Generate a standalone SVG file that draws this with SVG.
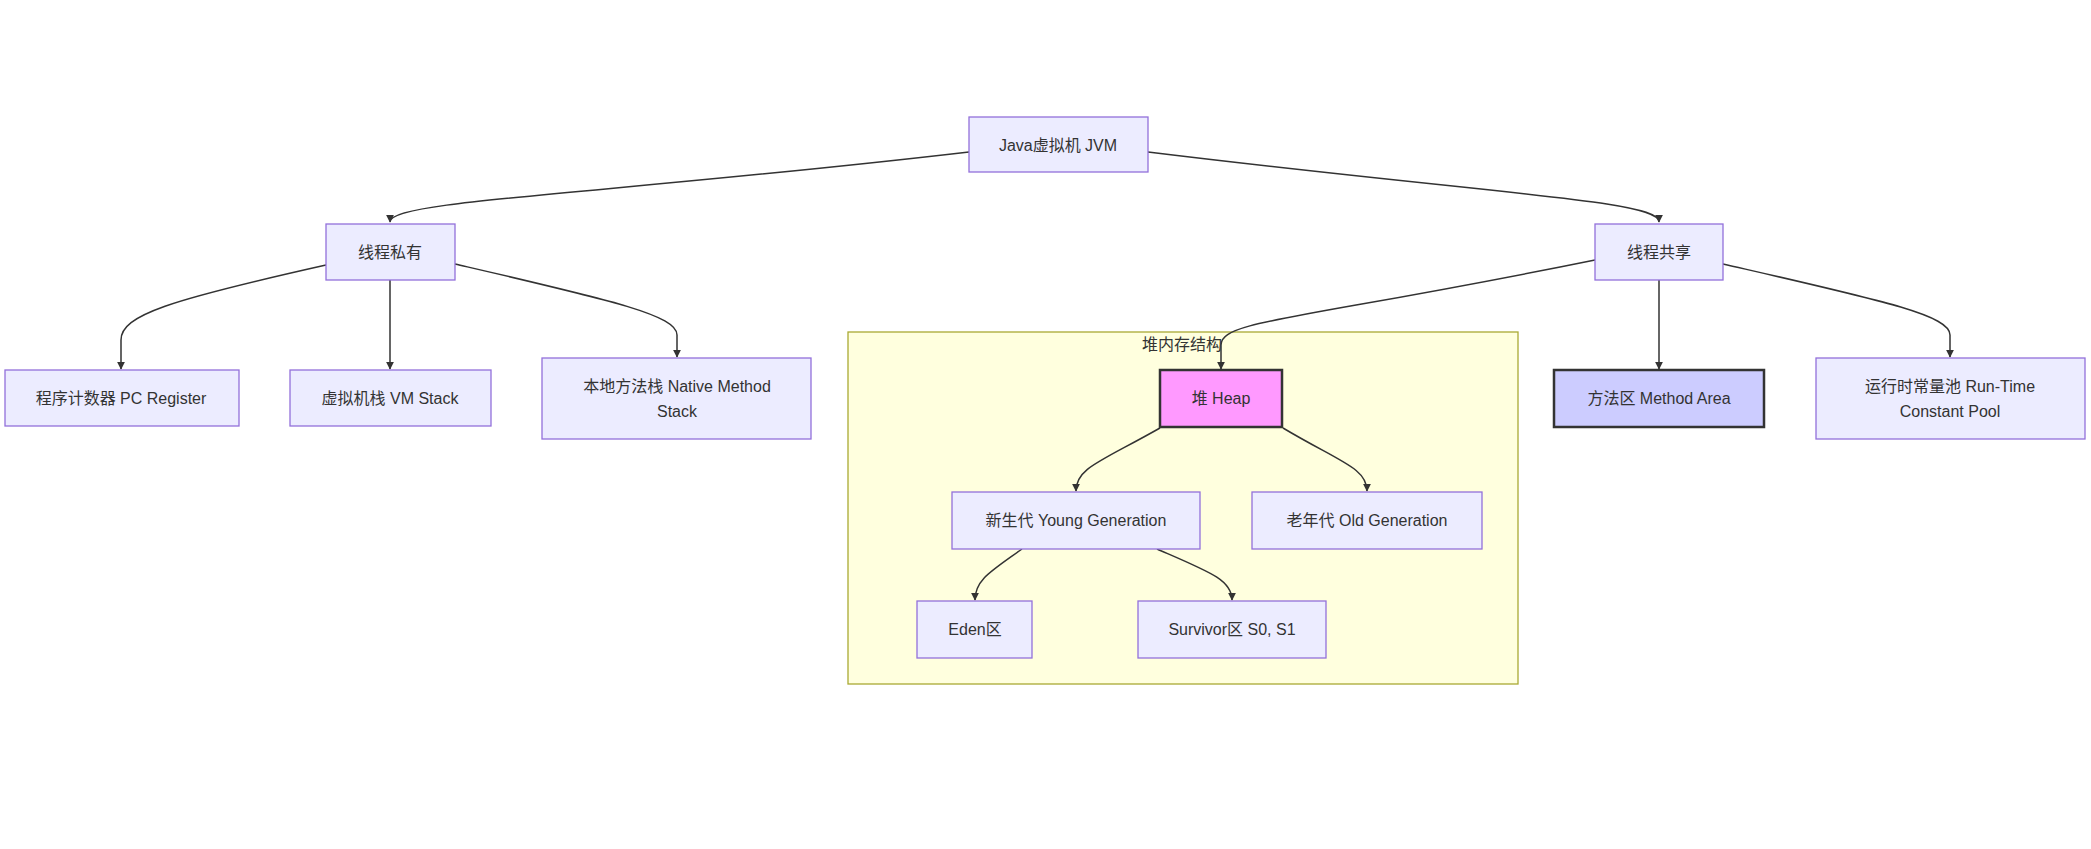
<svg xmlns="http://www.w3.org/2000/svg" width="2091" height="849" viewBox="0 0 2091 849">
<defs>
<marker id="arr" viewBox="0 0 10 10" refX="9" refY="5" markerWidth="8" markerHeight="8" orient="auto" markerUnits="userSpaceOnUse"><path d="M0,0 L10,5 L0,10 z" fill="#333"/></marker>
<style>
.n{fill:#ECECFF;stroke:#9370DB;stroke-width:1.3}
.t{font-family:"Liberation Sans","Noto Sans CJK SC",sans-serif;font-size:16px;fill:#333;text-anchor:middle;dominant-baseline:central}
.e{fill:none;stroke:#333;stroke-width:1.5;marker-end:url(#arr)}
</style>
</defs>
<rect width="2091" height="849" fill="#fff"/>
<g id="cluster"><rect x="848" y="332" width="670" height="352" fill="#ffffde" stroke="#aaaa33" stroke-width="1.3"/><text class="t" x="1182" y="344">堆内存结构</text></g>
<g id="edges">
<path class="e" d="M969,152 C600,195 390,200 390,222"/>
<path class="e" d="M1148,152 C1500,195 1659,200 1659,222"/>
<path class="e" d="M326,265 C170,300 121,315 121,340 L121,369"/>
<path class="e" d="M390,280 L390,369"/>
<path class="e" d="M455,264 C610,300 677,315 677,335 L677,357"/>
<path class="e" d="M1595,260 C1300,320 1221,320 1221,345 L1221,369"/>
<path class="e" d="M1659,280 L1659,369"/>
<path class="e" d="M1723,264 C1880,300 1950,315 1950,335 L1950,357"/>
<path class="e" d="M1160,428 C1100,462 1076,468 1076,491"/>
<path class="e" d="M1283,428 C1340,462 1367,468 1367,491"/>
<path class="e" d="M1022,549 C990,572 975,580 975,600"/>
<path class="e" d="M1157,549 C1210,572 1232,580 1232,600"/>
</g>
<g id="jvm"><rect class="n" x="969" y="117" width="179" height="55"/><text class="t" x="1058" y="145">Java虚拟机 JVM</text></g>
<g id="private"><rect class="n" x="326" y="224" width="129" height="56"/><text class="t" x="390" y="252">线程私有</text></g>
<g id="shared"><rect class="n" x="1595" y="224" width="128" height="56"/><text class="t" x="1659" y="252">线程共享</text></g>
<g id="pc"><rect class="n" x="5" y="370" width="234" height="56"/><text class="t" x="121" y="398">程序计数器 PC Register</text></g>
<g id="vmstack"><rect class="n" x="290" y="370" width="201" height="56"/><text class="t" x="390" y="398">虚拟机栈 VM Stack</text></g>
<g id="native"><rect class="n" x="542" y="358" width="269" height="81"/><text class="t" x="677" y="386">本地方法栈 Native Method</text><text class="t" x="677" y="411">Stack</text></g>
<g id="heap"><rect x="1160" y="370" width="122" height="57" fill="#f9f" stroke="#333" stroke-width="2.5"/><text class="t" x="1221" y="398">堆 Heap</text></g>
<g id="method"><rect x="1554" y="370" width="210" height="57" fill="#ccf" stroke="#333" stroke-width="2.5"/><text class="t" x="1659" y="398">方法区 Method Area</text></g>
<g id="pool"><rect class="n" x="1816" y="358" width="269" height="81"/><text class="t" x="1950" y="386">运行时常量池 Run-Time</text><text class="t" x="1950" y="411">Constant Pool</text></g>
<g id="young"><rect class="n" x="952" y="492" width="248" height="57"/><text class="t" x="1076" y="520">新生代 Young Generation</text></g>
<g id="old"><rect class="n" x="1252" y="492" width="230" height="57"/><text class="t" x="1367" y="520">老年代 Old Generation</text></g>
<g id="eden"><rect class="n" x="917" y="601" width="115" height="57"/><text class="t" x="975" y="629">Eden区</text></g>
<g id="survivor"><rect class="n" x="1138" y="601" width="188" height="57"/><text class="t" x="1232" y="629">Survivor区 S0, S1</text></g>
</svg>
